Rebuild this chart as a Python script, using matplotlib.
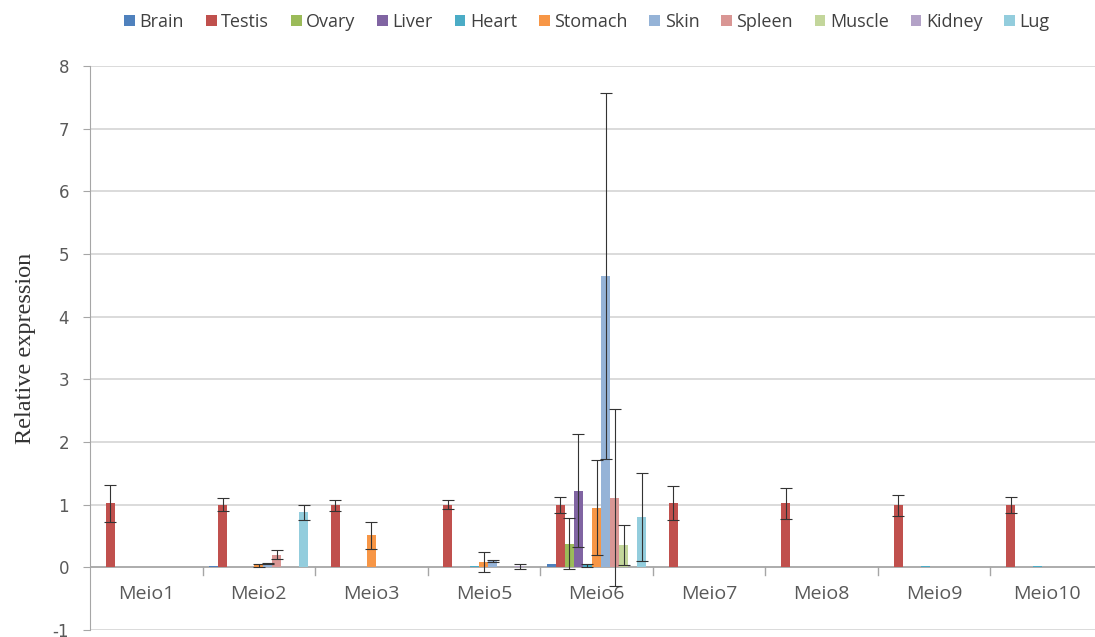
import numpy as np
import matplotlib
matplotlib.use("Agg")
import matplotlib.pyplot as plt

plt.rcParams["axes.unicode_minus"] = False

genes = ["Meio1", "Meio2", "Meio3", "Meio5", "Meio6", "Meio7", "Meio8", "Meio9", "Meio10"]
tissues = ["Brain", "Testis", "Ovary", "Liver", "Heart", "Stomach",
           "Skin", "Spleen", "Muscle", "Kidney", "Lug"]
colors = ["#4F81BD", "#C0504D", "#9BBB59", "#8064A2", "#4BACC6", "#F79646",
          "#95B3D7", "#D99694", "#C3D69B", "#B3A2C7", "#93CDDD"]

# mean relative expression, one list per tissue (order of genes)
brain = [0.01, 0.02, 0.0, 0.01, 0.05, 0.0, 0.0, 0.0, 0.0]
testis = [1.02, 1.0, 0.99, 1.0, 1.0, 1.02, 1.02, 0.99, 0.99]
ovary = [0.01, 0.01, 0.0, 0.0, 0.38, 0.0, 0.01, 0.01, 0.01]
liver = [0.0, 0.01, 0.0, 0.0, 1.22, 0.0, 0.0, 0.0, 0.0]
heart = [0.0, 0.01, 0.0, 0.02, 0.03, 0.0, 0.0, 0.02, 0.02]
stomach = [0.0, 0.03, 0.51, 0.08, 0.95, 0.0, 0.0, 0.0, 0.0]
skin = [0.0, 0.06, 0.0, 0.1, 4.65, 0.0, 0.0, 0.0, 0.0]
spleen = [0.0, 0.2, 0.0, 0.0, 1.11, 0.0, 0.0, 0.0, 0.01]
muscle = [0.01, 0.01, 0.0, 0.0, 0.35, 0.0, 0.0, 0.0, 0.0]
kidney = [0.0, 0.01, 0.0, 0.02, 0.01, 0.0, 0.0, 0.0, 0.0]
lug = [0.0, 0.88, 0.0, 0.0, 0.8, 0.0, 0.0, 0.0, 0.0]

# standard deviations
brain_sd = [0, 0, 0, 0, 0, 0, 0, 0, 0]
testis_sd = [0.3, 0.1, 0.09, 0.07, 0.13, 0.27, 0.25, 0.17, 0.13]
ovary_sd = [0, 0, 0, 0, 0.4, 0, 0, 0, 0]
liver_sd = [0, 0, 0, 0, 0.9, 0, 0, 0, 0]
heart_sd = [0, 0, 0, 0, 0.03, 0, 0, 0, 0]
stomach_sd = [0, 0.02, 0.21, 0.16, 0.76, 0, 0, 0, 0]
skin_sd = [0, 0.01, 0, 0.02, 2.92, 0, 0, 0, 0]
spleen_sd = [0, 0.07, 0, 0, 1.41, 0, 0, 0, 0]
muscle_sd = [0, 0, 0, 0, 0.32, 0, 0, 0, 0]
kidney_sd = [0, 0, 0, 0.04, 0, 0, 0, 0, 0]
lug_sd = [0, 0.12, 0, 0, 0.7, 0, 0, 0, 0]

means = [brain, testis, ovary, liver, heart, stomach, skin, spleen, muscle, kidney, lug]
sds = [brain_sd, testis_sd, ovary_sd, liver_sd, heart_sd, stomach_sd,
       skin_sd, spleen_sd, muscle_sd, kidney_sd, lug_sd]

W, H = 1095, 637
fig = plt.figure(figsize=(W / 100, H / 100), dpi=100)
ax = fig.add_axes([90 / W, (H - 630) / H, 1013 / W, 564 / H])

n = len(tissues)
width = 1 / (n + 1.5)
x = np.arange(len(genes))
for i in range(n):
    pos = x + (i - (n - 1) / 2) * width
    ax.bar(pos, means[i], width, color=colors[i], label=tissues[i], zorder=3)
    sd = np.array(sds[i])
    m = sd > 0
    ax.errorbar(pos[m], np.array(means[i])[m], yerr=sd[m], fmt="none",
                ecolor="#333333", elinewidth=0.8, capsize=4, capthick=0.8, zorder=4)

ax.set_xlim(-0.5, len(genes) - 0.5)
ax.set_ylim(-1, 8)
ax.set_yticks(range(-1, 9))
ax.yaxis.grid(True, color="#d4d4d4", linewidth=1.2, zorder=0)
ax.set_axisbelow(True)
for s in ["top", "right", "bottom"]:
    ax.spines[s].set_visible(False)
ax.spines["left"].set_color("#a6a6a6")
ax.tick_params(axis="y", colors="#a6a6a6", length=5, labelcolor="#595959",
               labelsize=12, pad=10)
ax.set_xticks([])

# category axis drawn at zero
ax.axhline(0, color="#a6a6a6", linewidth=1.2, zorder=2)
for b in np.arange(0.5, len(genes) - 0.5, 1):
    ax.plot([b, b], [0, -0.12], color="#a6a6a6", linewidth=1, zorder=2)
for xi, g in zip(x, genes):
    ax.text(xi, -0.28, g, ha="center", va="top", fontsize=14, color="#595959",
            family="Open Sans")

ax.set_ylabel("Relative expression", family="Liberation Serif", fontsize=17.5,
              color="#333333", labelpad=12)

fig.legend(loc="center", bbox_to_anchor=(587 / W, 1 - 22 / H), ncol=n,
           frameon=False, handlelength=0.6, handleheight=0.6, handletextpad=0.25,
           columnspacing=1.2, prop={"family": "Open Sans", "size": 13},
           labelcolor="#404040")

fig.savefig("out.png", dpi=100)
